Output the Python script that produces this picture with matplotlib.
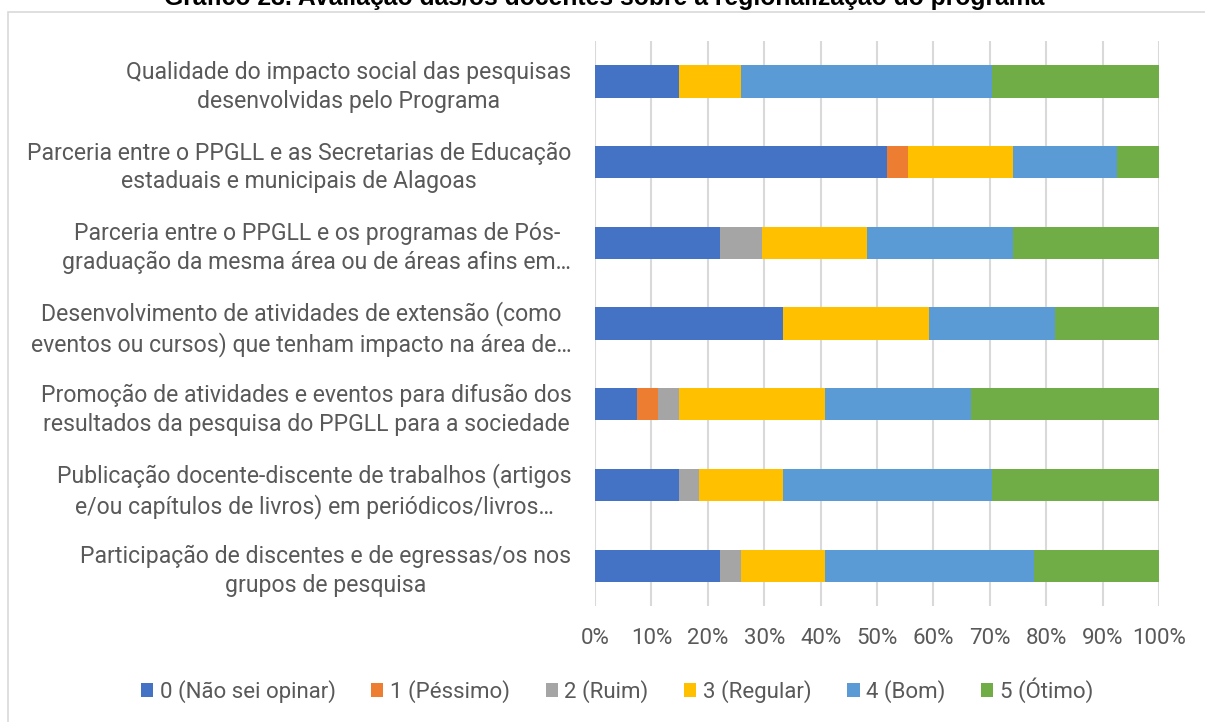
import numpy as np
import matplotlib
matplotlib.use('Agg')
import matplotlib.pyplot as plt
from matplotlib.patches import Rectangle

plt.rcParams['font.family'] = ['Roboto', 'DejaVu Sans']

# respostas das/os docentes (contagens, total 27 por item)
itens = [
    'Qualidade do impacto social das pesquisas\ndesenvolvidas pelo Programa',
    'Parceria entre o PPGLL e as Secretarias de Educação\nestaduais e municipais de Alagoas',
    'Parceria entre o PPGLL e os programas de Pós-\ngraduação da mesma área ou de áreas afins em…',
    'Desenvolvimento de atividades de extensão (como\neventos ou cursos) que tenham impacto na área de…',
    'Promoção de atividades e eventos para difusão dos\nresultados da pesquisa do PPGLL para a sociedade',
    'Publicação docente-discente de trabalhos (artigos\ne/ou capítulos de livros) em periódicos/livros…',
    'Participação de discentes e de egressas/os nos\ngrupos de pesquisa',
]
categorias = ['0 (Não sei opinar)', '1 (Péssimo)', '2 (Ruim)',
              '3 (Regular)', '4 (Bom)', '5 (Ótimo)']
nao_sei = [4, 14, 6, 9, 2, 4, 6]
pessimo = [0, 1, 0, 0, 1, 0, 0]
ruim = [0, 0, 2, 0, 1, 1, 1]
regular = [3, 5, 5, 7, 7, 4, 4]
bom = [12, 5, 7, 6, 7, 10, 10]
otimo = [8, 2, 7, 5, 9, 8, 6]
cores = ['#4472C4', '#ED7D31', '#A5A5A5', '#FFC000', '#5B9BD5', '#70AD47']

dados = np.array([nao_sei, pessimo, ruim, regular, bom, otimo], dtype=float)
perc = dados / dados.sum(axis=0) * 100

W, H = 1205, 722
fig = plt.figure(figsize=(W / 100, H / 100), dpi=100)

# borda da área do gráfico
fig.patches.append(Rectangle((8 / W, -0.1), 1.2, 1 - 12 / H + 0.1,
                             transform=fig.transFigure, fill=False,
                             edgecolor='#D9D9D9', lw=1.2))

# título (cortado no topo, como na imagem original)
fig.text(604 / W, 1 - 5 / H,
         'Gráfico 23. Avaliação das/os docentes sobre a regionalização do programa',
         ha='center', va='baseline', fontsize=17.85, fontweight='bold',
         family=['Liberation Sans', 'DejaVu Sans'], color='black')

ax = fig.add_axes([595 / W, 1 - 606 / H, (1159 - 595) / W, (606 - 41) / H])
y = np.arange(len(itens))
esquerda = np.zeros(len(itens))
for i in range(len(categorias)):
    ax.barh(y, perc[i], left=esquerda, height=0.4, color=cores[i],
            label=categorias[i], zorder=3)
    esquerda += perc[i]

ax.set_ylim(len(itens) - 0.5, -0.5)
ax.set_xlim(0, 100)
ax.set_xticks(np.arange(0, 101, 10))
ax.set_xticklabels([f'{v}%' for v in range(0, 101, 10)])
ax.set_yticks(y)
ax.set_yticklabels(itens, multialignment='center', linespacing=1.32)
ax.tick_params(axis='y', length=0, pad=17, labelsize=16.6, labelcolor='#595959')
ax.tick_params(axis='x', length=0, pad=16, labelsize=16, labelcolor='#595959')
ax.grid(axis='x', color='#D9D9D9', lw=1.5, zorder=0)
for s in ax.spines.values():
    s.set_visible(False)

leg = fig.legend(loc='center', bbox_to_anchor=(617 / W, 1 - 690 / H), ncol=6,
                 frameon=False, fontsize=16, labelcolor='#595959',
                 handlelength=0.55, handleheight=0.55, handletextpad=0.3,
                 columnspacing=1.6)

fig.savefig('out.png', dpi=100)
